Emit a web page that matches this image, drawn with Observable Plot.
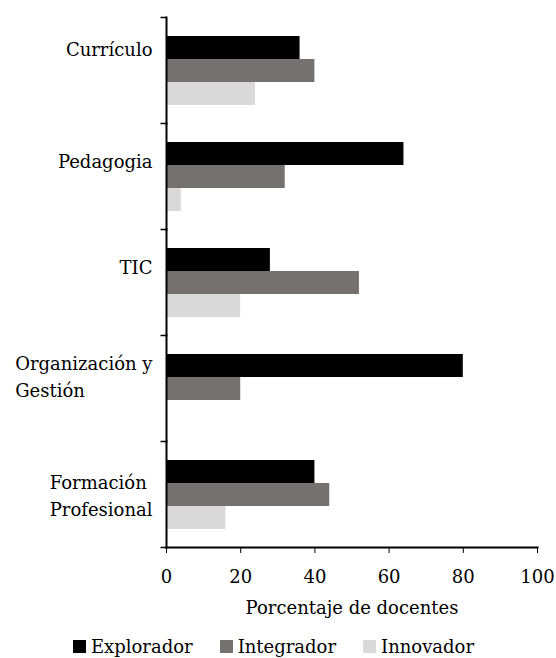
<!DOCTYPE html>
<html>
<head>
<meta charset="utf-8">
<script src="https://cdn.jsdelivr.net/npm/d3@7"></script>
<script src="https://cdn.jsdelivr.net/npm/@observablehq/plot@0.6"></script>
<style>
  html, body { margin: 0; padding: 0; background: #fff; }
  body { width: 556px; font-family: "DejaVu Serif", serif; }
  #legend { display: flex; justify-content: center; gap: 27px; font-size: 18px; color: #000; margin-top: 1px; padding-right: 9px; }
  #legend .item { display: flex; align-items: center; gap: 5px; }
  #legend .sw { width: 13px; height: 13px; display: inline-block; }
</style>
</head>
<body>
<div id="chart"></div>
<div id="legend"></div>
<script>
const categories = ["Currículo", "Pedagogia", "TIC", "Organización y Gestión", "Formación Profesional"];
const categoryLabels = ["Currículo", "Pedagogia", "TIC", "Organización y\nGestión", "Formación\nProfesional"];
const series = ["Explorador", "Integrador", "Innovador"];
const explorador = [36, 64, 28, 80, 40];
const integrador = [40, 32, 52, 20, 44];
const innovador  = [24, 4, 20, 0, 16];
const xTicks = [0, 20, 40, 60, 80, 100];
const colors = ["#000000", "#767171", "#d9d9d9"];

const seriesValues = [explorador, integrador, innovador];
const data = [];
categories.forEach((c, i) => {
  series.forEach((s, j) => data.push({category: c, series: s, value: seriesValues[j][i]}));
});
const labelOf = new Map(categories.map((c, i) => [c, categoryLabels[i]]));

const tickSymbol = { draw(ctx) { ctx.moveTo(-6, 0); ctx.lineTo(0, 0); } };

// category label axes, with the slightly irregular vertical placement of the original
const fyAxis = (ticks, dy) => Plot.axisFy({ ticks, anchor: "left", tickSize: 0, tickPadding: 14, fontSize: 18, lineHeight: 1.5, dy, tickFormat: d => labelOf.get(d), label: null });

const chart = Plot.plot({
  width: 556,
  height: 635,
  marginLeft: 166,
  marginRight: 19,
  marginTop: 15,
  marginBottom: 87,
  style: { fontFamily: "DejaVu Serif, serif", fontSize: "18px", color: "#000", background: "#fff" },
  x: { domain: [0, 100], ticks: xTicks, label: "Porcentaje de docentes" },
  fy: { domain: categories, padding: 0, label: null },
  y: { domain: series, paddingInner: 0, paddingOuter: 0.72, axis: null },
  color: { domain: series, range: colors },
  marks: [
    Plot.barX(data, { x: "value", y: "series", fy: "category", fill: "series", inset: 0 }),
    Plot.frame({ anchor: "left", stroke: "#000", strokeWidth: 2 }),
    Plot.frame({ anchor: "bottom", stroke: "#000", strokeWidth: 2, facetAnchor: "bottom" }),
    Plot.dot([0], { frameAnchor: "top-left", symbol: tickSymbol, stroke: "#000", strokeWidth: 1.5, fill: "none" }),
    Plot.dot([0], { frameAnchor: "bottom-left", symbol: tickSymbol, stroke: "#000", strokeWidth: 1.5, fill: "none", facetAnchor: "bottom" }),
    Plot.axisX({ ticks: xTicks, tickSize: 6, tickPadding: 17, fontSize: 18, label: "Porcentaje de docentes", labelAnchor: "center", labelArrow: "none", labelOffset: 66, stroke: "#000" }),
    fyAxis([categories[0]], -23),
    fyAxis([categories[1], categories[2]], -17),
    fyAxis([categories[3]], -14),
    fyAxis([categories[4]], -1)
  ]
});
document.getElementById("chart").appendChild(chart);

// Left-align the lines of multi-line category labels within their block (as in the original)
d3.select(chart).selectAll("text").each(function() {
  const tspans = this.querySelectorAll("tspan");
  if (tspans.length > 1) {
    const anchor = this.getAttribute("text-anchor") || (this.closest("[text-anchor]") && this.closest("[text-anchor]").getAttribute("text-anchor"));
    if (anchor === "end") {
      let maxW = 0;
      tspans.forEach(t => { maxW = Math.max(maxW, t.getComputedTextLength()); });
      tspans.forEach(t => {
        const w = t.getComputedTextLength();
        t.setAttribute("dx", String(-(maxW - w)));
      });
    }
  }
});

const legend = d3.select("#legend");
series.forEach((s, i) => {
  const item = legend.append("div").attr("class", "item");
  item.append("span").attr("class", "sw").style("background", colors[i]);
  item.append("span").text(s);
});
</script>
</body>
</html>
